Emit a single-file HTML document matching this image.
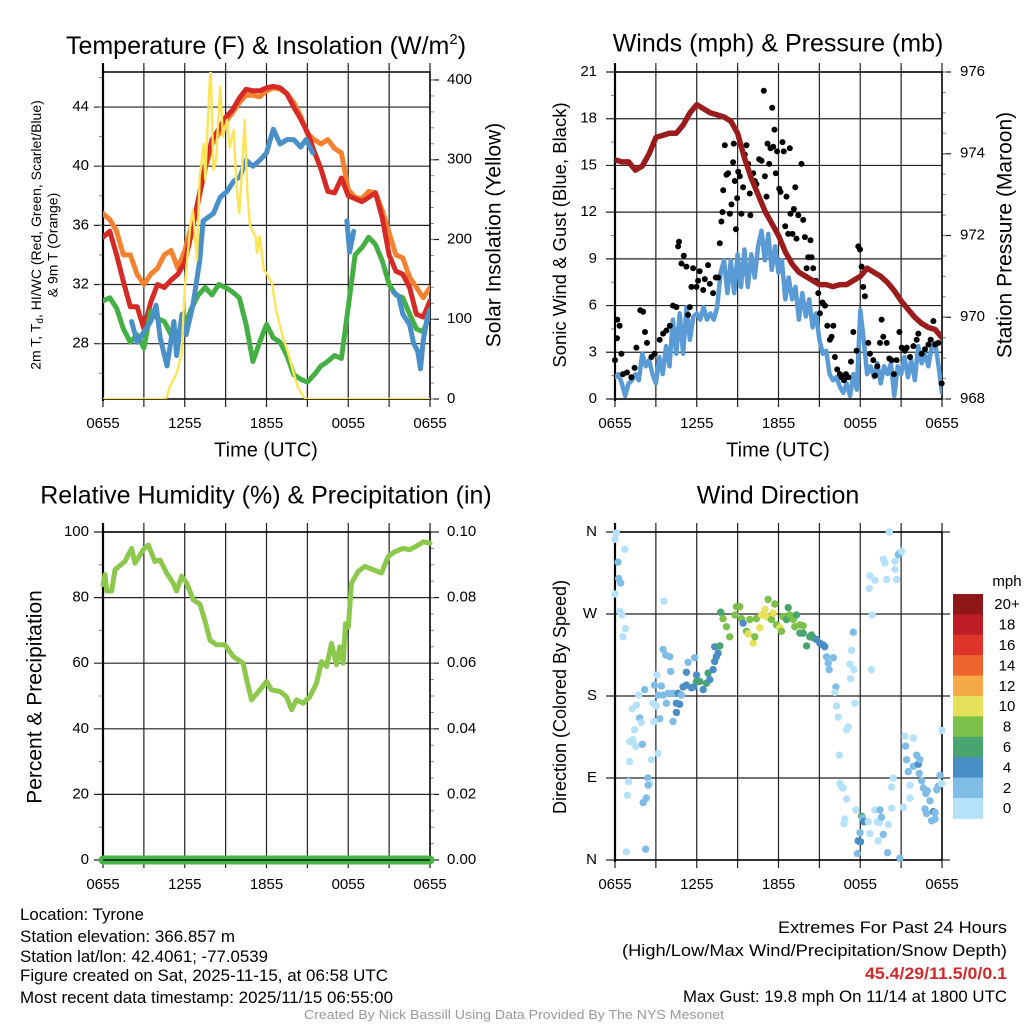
<!DOCTYPE html>
<html><head><meta charset="utf-8"><title>Tyrone Mesonet Meteogram</title>
<style>
html,body{margin:0;padding:0;background:#fff;}
svg{display:block;font-family:"Liberation Sans",Arial,sans-serif;}
</style></head>
<body>
<svg id="chart" xmlns="http://www.w3.org/2000/svg" width="1024" height="1024" viewBox="0 0 1024 1024">
<defs>
<clipPath id="clip1"><rect x="103" y="72" width="327" height="327"/></clipPath>
<clipPath id="clip2"><rect x="615" y="72" width="327" height="327"/></clipPath>
<clipPath id="clip3"><rect x="95" y="520" width="345" height="350"/></clipPath>
</defs>
<rect x="0" y="0" width="1024" height="1024" fill="#fff"/>
<!-- Titles -->
<text x="266" y="54" font-size="25" text-anchor="middle">Temperature (F) &amp; Insolation (W/m<tspan font-size="15" dy="-10">2</tspan><tspan dy="10">)</tspan></text>
<text x="778" y="45" font-size="25" text-anchor="middle" dominant-baseline="middle">Winds (mph) &amp; Pressure (mb)</text>
<text x="266" y="497" font-size="25" text-anchor="middle" dominant-baseline="middle">Relative Humidity (%) &amp; Precipitation (in)</text>
<text x="778" y="497" font-size="25" text-anchor="middle" dominant-baseline="middle">Wind Direction</text>
<!-- Axis titles -->
<text transform="translate(37,235) rotate(-90)" font-size="14" text-anchor="middle" dominant-baseline="middle">2m T, T<tspan font-size="10" dy="3">d</tspan><tspan dy="-3">, HI/WC (Red, Green, Scarlet/Blue)</tspan></text>
<text transform="translate(54,245) rotate(-90)" font-size="14" text-anchor="middle" dominant-baseline="middle">&amp; 9m T (Orange)</text>
<text transform="translate(495,235) rotate(-90)" font-size="21" text-anchor="middle" dominant-baseline="middle">Solar Insolation (Yellow)</text>
<text x="266" y="451" font-size="20" text-anchor="middle" dominant-baseline="middle">Time (UTC)</text>
<text x="778" y="451" font-size="20" text-anchor="middle" dominant-baseline="middle">Time (UTC)</text>
<text transform="translate(561,235) rotate(-90)" font-size="18.5" text-anchor="middle" dominant-baseline="middle">Sonic Wind &amp; Gust (Blue, Black)</text>
<text transform="translate(1006,235) rotate(-90)" font-size="21" text-anchor="middle" dominant-baseline="middle">Station Pressure (Maroon)</text>
<text transform="translate(36,697) rotate(-90)" font-size="21" text-anchor="middle" dominant-baseline="middle">Percent &amp; Precipitation</text>
<text transform="translate(561,697) rotate(-90)" font-size="18" text-anchor="middle" dominant-baseline="middle">Direction (Colored By Speed)</text>
<!-- Footer -->
<g font-size="16.5">
<text x="20" y="920" textLength="124" lengthAdjust="spacingAndGlyphs">Location: Tyrone</text>
<text x="20" y="942" textLength="215" lengthAdjust="spacingAndGlyphs">Station elevation: 366.857 m</text>
<text x="20" y="962" textLength="248" lengthAdjust="spacingAndGlyphs">Station lat/lon: 42.4061; -77.0539</text>
<text x="20" y="981" textLength="368" lengthAdjust="spacingAndGlyphs">Figure created on Sat, 2025-11-15, at 06:58 UTC</text>
<text x="20" y="1003" textLength="373" lengthAdjust="spacingAndGlyphs">Most recent data timestamp: 2025/11/15 06:55:00</text>
</g>
<g font-size="16.5" text-anchor="end">
<text x="1007" y="933" textLength="229" lengthAdjust="spacingAndGlyphs">Extremes For Past 24 Hours</text>
<text x="1007" y="956" textLength="385" lengthAdjust="spacingAndGlyphs">(High/Low/Max Wind/Precipitation/Snow Depth)</text>
<text x="1007" y="979" fill="#d02a2a" font-weight="bold" textLength="142" lengthAdjust="spacingAndGlyphs">45.4/29/11.5/0/0.1</text>
<text x="1007" y="1002" textLength="324" lengthAdjust="spacingAndGlyphs">Max Gust: 19.8 mph On 11/14 at 1800 UTC</text>
</g>
<text x="514" y="1019" font-size="13" fill="#999" text-anchor="middle" textLength="420" lengthAdjust="spacingAndGlyphs">Created By Nick Bassill Using Data Provided By The NYS Mesonet</text>
</svg>
<script>
// ---------- DATA ----------
const timeTickHours = [0, 6, 12, 18, 24];
const timeTickLabels = ['0655', '1255', '1855', '0055', '0655'];
const gridHours = [0, 3, 6, 9, 12, 15, 18, 21, 24];

const tempTicks = [28, 32, 36, 40, 44];
const solarTicks = [0, 100, 200, 300, 400];
const windTicks = [0, 3, 6, 9, 12, 15, 18, 21];
const pressTicks = [968, 970, 972, 974, 976];
const rhTicks = [0, 20, 40, 60, 80, 100];
const precipTickLabels = ['0.00', '0.02', '0.04', '0.06', '0.08', '0.10'];
const dirTickDeg = [0, 90, 180, 270, 360];
const dirTickLabels = ['N', 'E', 'S', 'W', 'N'];

const halfHours = [0,0.5,1,1.5,2,2.5,3,3.5,4,4.5,5,5.5,6,6.5,7,7.5,8,8.5,9,9.5,10,10.5,11,11.5,12,12.5,13,13.5,14,14.5,15,15.5,16,16.5,17,17.5,18,18.5,19,19.5,20,20.5,21,21.5,22,22.5,23,23.5,24];
const tempRed = [35.2,35.6,34,32.2,30.5,30.5,29,30.8,32,31.8,32.3,32.7,33.5,35.5,37.8,40,41.8,42.5,43.3,43.8,44.6,45.2,45.1,45.1,45.3,45.4,45.3,44.9,44,43.2,42.3,41,39.8,38.3,38.2,39.2,38,37.8,37.6,37.9,38.2,36.5,34,32.9,32.7,31.8,30,29.8,30.9];
const temp9mOrange = [36.8,36.4,35.6,34,34,32.7,32,32.7,33.1,34,34.3,33.1,34.3,36,37.6,39.8,41.5,42.2,43,43.6,44.3,44.8,44.8,44.7,45.1,45.3,45.2,44.9,44.3,43.4,42.2,41.8,41.5,41.8,41.2,40.9,38.4,37.9,37.8,38.3,38.2,37,35.5,34,33.8,32.5,31.8,31.1,31.8];
const dewGreen = [30.9,31.1,30.4,29,28.1,28.6,27.7,30.2,29.7,29.5,28.6,28.8,29.3,30.4,31.3,31.8,31.3,32,31.8,31.5,31.1,29.3,26.8,28.1,29.3,28.4,28.1,27.2,25.9,25.6,25.4,25.9,26.5,26.8,27.2,27,30.5,34,34.5,35.2,34.7,33.6,32,31.3,31.1,30,29,28.8,30];
const wcHours = [2.1,2.5,3,3.5,3.9,4.2,4.7,5.2,5.4,5.8,6.1,6.6,7.1,7.35,8.1,8.6,9.1,9.6,10.05,10.5,11,11.5,12,12.5,13,13.5,14,14.5,14.9,15.4,16,17.9,18.1,18.4,19,21.3,21.7,22,22.5,22.8,23.1,23.3,23.5,23.8,24];
const wcBlue = [29.5,28.1,28.8,29.5,30.6,28.4,26.5,29.5,27.2,30,28.6,30.6,33.6,36.3,36.8,37.9,38.3,39,39.3,40.4,40,40.4,40.9,42.5,41.5,41.8,41.8,41.3,41.8,40.9,null,36.3,34.2,35.6,null,31.5,31.2,30,29.3,28,27.5,26.3,28.2,29.8,30.3];
const solarHours = [0,4.5,4.67,4.9,5.4,5.77,6,6.4,6.6,6.9,7.1,7.4,7.5,7.7,7.9,8.1,8.3,8.6,8.8,9.1,9.3,9.6,9.8,10,10.2,10.4,10.6,10.8,11.2,11.3,11.5,11.8,12,12.4,12.7,13.2,13.6,14,14.3,14.7,14.9,24];
const solarYellow = [0,0,2,15,32,57,141,216,237,174,279,320,275,350,420,287,300,392,329,350,316,337,266,233,287,350,258,216,204,183,204,162,158,145,112,78,57,32,15,3,0,0];

const quarterHours = [0,0.25,0.5,0.75,1,1.25,1.5,1.75,2,2.25,2.5,2.75,3,3.25,3.5,3.75,4,4.25,4.5,4.75,5,5.25,5.5,5.75,6,6.25,6.5,6.75,7,7.25,7.5,7.75,8,8.25,8.5,8.75,9,9.25,9.5,9.75,10,10.25,10.5,10.75,11,11.25,11.5,11.75,12,12.25,12.5,12.75,13,13.25,13.5,13.75,14,14.25,14.5,14.75,15,15.25,15.5,15.75,16,16.25,16.5,16.75,17,17.25,17.5,17.75,18,18.25,18.5,18.75,19,19.25,19.5,19.75,20,20.25,20.5,20.75,21,21.25,21.5,21.75,22,22.25,22.5,22.75,23,23.25,23.5,23.75,24];
const windSpeed = [1.4,1.6,1,0.2,1,1.2,1.6,1.2,2.9,2.1,2.5,1.6,1,2.7,1.6,3.4,2.1,5.1,2.9,5.5,2.9,5.9,3.8,5.3,5.5,5.1,5.9,5.1,5.5,5.1,5.9,8.1,8.9,6.8,8.9,6.8,9.3,7.2,9.6,7.2,9.3,7.8,9.8,10.8,8.9,10.6,8.3,9.8,8.1,8.9,6.4,7.8,6.4,7.2,5.1,6.8,5.3,6.4,4.6,5.5,3.8,2.9,3.1,1.6,1.2,1.4,0.8,0.4,1,0.2,1.6,0.6,5.7,3.8,1.6,2.1,1.4,2.3,1,2.1,1.6,2.3,0.2,2.1,1.6,2.7,1.4,2.5,1.2,3.4,2.3,2.9,2.1,3.4,3.6,2.1,0.4];
const pressure = [973.85,973.8,973.8,973.6,973.7,974,974.4,974.45,974.5,974.5,974.7,975,975.2,975.1,975,974.95,974.9,974.8,974.5,973.9,973.4,973,972.6,972.3,972,971.6,971.3,971.1,971,970.9,970.8,970.8,970.75,970.8,970.8,970.9,971,971.2,971.1,971,970.85,970.65,970.4,970.2,970,969.85,969.75,969.7,969.5];
const gustHours = [0,0.15,0.17,0.34,0.47,0.59,0.88,1.2,1.44,1.57,1.86,2.06,2.2,2.35,2.67,2.91,3.28,3.53,3.77,4.02,4.26,4.51,4.63,4.7,4.87,5.05,5.24,5.36,5.49,5.61,5.73,5.98,6.1,6.22,6.47,6.59,6.83,6.96,7.2,7.4,7.57,7.69,7.81,7.89,7.94,8.06,8.18,8.3,8.43,8.55,8.67,8.72,8.79,8.87,8.96,9.04,9.16,9.28,9.4,9.53,9.65,9.77,9.89,9.94,10.14,10.26,10.38,10.58,10.75,10.92,11,11.12,11.19,11.32,11.41,11.54,11.61,11.71,11.8,11.9,12.05,12.15,12.29,12.39,12.49,12.59,12.71,12.83,12.88,13.03,13.13,13.23,13.32,13.45,13.69,13.81,13.94,14.06,14.18,14.35,14.43,14.55,14.74,14.92,15.04,15.23,15.41,15.58,15.77,15.9,16.02,16.14,16.31,16.51,16.63,16.8,16.95,17.12,17.32,17.49,17.73,17.86,17.98,18.1,18.22,18.34,18.59,18.71,18.96,19.08,19.25,19.45,19.57,19.69,19.94,20.13,20.3,20.47,20.67,20.87,21.04,21.28,21.41,21.65,21.9,22.14,22.26,22.51,22.75,23,23.17,23.37,23.49,23.73,23.98];
const gustSpeed = [2.5,3.9,5.1,4.7,2.9,1.6,1.7,1.4,2,3.3,5.7,5.6,4.3,3.6,2.7,2.9,3.8,4.2,4.4,4.7,6,5.9,9.8,10.1,8.7,9.2,8.5,5.4,5.9,7.2,8.4,7.2,7.6,8.2,7,7.7,8.6,7.4,6.8,7.8,7.8,10,11.4,12,13.4,16.3,14.4,14.5,11.9,12.5,15.2,16.4,14,10.9,12.9,14.6,14.3,11.9,13.6,15.7,16.3,15.1,13.2,11.8,14.5,14,13.8,15.4,15.3,19.8,14.3,13,16.4,15.1,16.1,18.7,16.2,17.3,14.5,15.9,13.5,13.3,16.5,15.9,11.1,13,10.6,16.1,11.9,10.6,12.2,13.6,10.3,11.8,15.1,11.5,10.4,8.4,9.1,10.2,9.1,8.4,7.6,6.8,5.5,6.2,6,4.7,3.8,4,4.7,2.7,1.9,1.6,1.4,1.2,1.6,1.4,2.4,4.3,3.1,9.8,9.6,8.5,7.2,6.6,3.6,2.9,2.5,1.5,2.1,3.6,5.1,4,3.6,2.6,2.5,1.6,2.5,4.3,3.3,3.1,3.3,2.7,3.4,3.8,4.2,2.9,3.2,3.5,3.8,5,3.5,3.6,1];

const rhHours = [0,0.15,0.27,0.64,0.88,1.61,2.1,2.35,2.96,3.33,3.81,4.18,4.67,5.16,5.4,5.77,6.14,6.63,7.11,7.48,7.85,8.34,8.95,9.56,10.29,10.54,10.9,11.52,12,12.37,12.98,13.47,13.84,14.2,14.69,15.18,15.67,16.04,16.41,16.77,17.14,17.38,17.63,17.8,18,18.24,18.73,19.22,19.83,20.44,20.93,21.42,22.03,22.52,23.13,23.5,24];
const rhValues = [84,87,82,82,88.5,91,95,90.5,94.6,96,91,91.5,87.5,84.4,82,86.5,84.4,79.3,78,73,67,65.6,65.6,62,60,55,48.8,51.9,54.4,51.9,51.4,49.8,45.8,48.8,47.8,49.8,53.9,60.5,59,66,59.5,65,60,72,71,84.4,88,89.5,88.5,87.5,92.6,94,95,94.6,96,97,96.6];
const precipHours = [0, 24];
const precipValues = [0, 0];

const dirHours = [0.1,0,0.22,0.27,0.42,0.71,0,0.34,0.51,0.76,0.59,3.6,3.53,3.72,4.02,3.09,2.91,3.4,4.09,5.36,5.85,5.24,5.98,1.74,2.18,3.16,3.53,3.89,4.26,4.63,4.87,4.51,4.75,3.77,4.51,4.26,3.28,2.79,3.04,1.27,1.57,1.81,1.93,1.44,1.32,1.08,1.52,2.01,2.87,3.16,2.67,1.08,2.42,2.55,2.42,1,0.91,2.3,2.06,0.83,2.25,
5,5.24,5.61,5.78,5.98,6.22,6.47,6.71,6.83,6.96,7.2,7.32,7.44,7.57,7.32,7.69,7.76,7.93,8.18,8.42,8.79,8.91,9.16,9.28,9.4,9.65,9.77,9.89,10.14,10.26,10.38,10.63,10.75,11,11.12,11.36,11.24,11.49,11.61,11.73,11.85,12.1,12.22,12.34,12.59,12.71,12.83,13.08,13.2,13.32,13.57,13.81,13.57,13.81,14.06,14.3,14.42,14.55,14.79,15.04,15.28,15.4,15.53,15.65,15.72,16.02,16.21,16.14,16.26,16.38,17.12,17,16.46,17.49,17.36,17.24,17.53,17.29,17.61,
16.51,16.63,16.75,17,17.68,16.87,16.8,18.1,18.17,18.27,17.98,17.85,18.02,17.78,18.59,18.71,19.08,19.25,19.4,19.45,19.57,19.69,19.32,20.06,20.01,20.3,20.42,20.3,20.91,
18.66,18.71,19.08,19.94,19.69,19.81,20.55,20.55,20.67,20.79,20.91,21.04,20.13,18.88,18.83,
21.28,21.9,21.33,21.4,21.53,21.65,21.65,21.9,22.14,22.26,22.38,22.33,22.51,22.63,22.82,22.92,23.12,22.75,22.87,23.37,23.49,23.24,23.49,23.61,23.73,23.86,23.98,24,21.16];
const dirDeg = [359,352,327,309,304,341,292,273,269,254,245,284,231,225,223,203,192,191,207,217,222,206,203,181,187,181,181,183,183,183,181,172,171,172,162,152,155,172,169,166,170,156,151,143,132,130,125,127,152,117,110,108,90,84,82,86,71,68,63,9,12,
190,192,189,190,196,196,187,194,205,198,209,218,223,227,234,235,272,265,256,245,269,278,278,265,260,251,248,264,238,245,265,255,269,275,267,265,286,264,271,281,258,255,251,267,264,277,269,264,256,269,258,257,249,249,235,245,247,244,242,238,236,234,223,216,209,222,190,184,169,157,146,143,115,250,230,215,209,199,172,
84,80,79,67,55,45,40,48,46,42,30,21,20,7,42,29,55,42,41,55,47,28,21,39,8,57,90,80,2,
298,312,307,308,330,326,328,319,308,335,337,339,360,269,209,
136,134,125,110,97,82,68,103,115,105,110,95,87,79,73,76,65,56,51,53,52,43,45,77,81,93,84,142,58];
const dirSpeed = [1,1,3,3,3,1,1,1,1,1,1,1,3,3,3,1,3,3,3,3,3,5,5,1,3,3,3,3,3,5,3,5,5,3,5,3,3,1,1,1,1,3,1,1,1,1,1,3,1,1,1,1,3,1,3,1,1,3,3,1,3,
5,5,5,5,7,7,5,7,7,5,5,5,5,5,5,7,7,9,9,9,9,9,9,9,5,9,11,9,11,9,9,11,11,11,11,11,9,9,11,9,9,11,9,9,7,7,9,9,9,7,9,9,7,7,7,7,7,7,5,5,5,5,3,3,3,3,3,1,1,1,1,1,1,3,1,1,1,1,1,
1,1,1,1,1,1,1,7,3,5,3,5,5,3,1,1,1,1,1,3,3,3,1,1,3,1,1,1,3,
1,1,1,1,1,1,1,1,1,3,3,1,1,1,1,
1,1,3,3,3,1,1,3,3,5,3,3,3,3,3,3,3,3,3,5,3,3,3,3,3,3,1,1,1];
const speedBinLabels = ['0','2','4','6','8','10','12','14','16','18','20+'];
const speedBinColors = ['#b5e2f8','#7fbce6','#4a8ec6','#48a56f','#7cc24a','#e6e15a','#f5a947','#ef6530','#dd3529','#bf1d25','#8f1619'];

// ---------- HELPERS ----------
const NS = 'http://www.w3.org/2000/svg';
const svg = document.getElementById('chart');
function mk(tag, parent) { const e = document.createElementNS(NS, tag); (parent || svg).appendChild(e); return e; }
function pathD(xs, ys, fx, fy) {
  let d = '', pen = false;
  for (let i = 0; i < xs.length; i++) {
    if (ys[i] === null) { pen = false; continue; }
    d += (pen ? 'L' : 'M') + fx(xs[i]).toFixed(1) + ',' + fy(ys[i]).toFixed(1);
    pen = true;
  }
  return d;
}
function line(g, x1, y1, x2, y2, stroke, w) {
  const l = mk('line', g);
  l.setAttribute('x1', x1); l.setAttribute('y1', y1); l.setAttribute('x2', x2); l.setAttribute('y2', y2);
  l.setAttribute('stroke', stroke); l.setAttribute('stroke-width', w);
  return l;
}
function label(g, x, y, txt, anchor, size) {
  const t = mk('text', g);
  t.setAttribute('x', x); t.setAttribute('y', y);
  t.setAttribute('text-anchor', anchor); t.setAttribute('dominant-baseline', 'middle');
  t.setAttribute('font-size', size || 14);
  t.textContent = txt;
  return t;
}
function series(g, xs, ys, fx, fy, color, width, clip) {
  const p = mk('path', g);
  p.setAttribute('d', pathD(xs, ys, fx, fy));
  p.setAttribute('fill', 'none'); p.setAttribute('stroke', color); p.setAttribute('stroke-width', width);
  p.setAttribute('stroke-linejoin', 'round'); p.setAttribute('stroke-linecap', 'round');
  if (clip) p.setAttribute('clip-path', 'url(#' + clip + ')');
  return p;
}

function frame(name, x0, x1, y0, y1, fx, leftMajor, leftMinor, fyL, rightMajor, rightMinor, fyR) {
  const g = mk('g');
  
  
  gridHours.forEach(h => {
    const l = line(g, fx(h), y0 - 9, fx(h), y1 + 8, '#222', 1.2);
    
    
  });
  leftMajor.forEach(v => {
    const l = line(g, x0 - 9, fyL(v), x1, fyL(v), '#222', 1.2);
    
    
  });
  leftMinor.forEach(v => {
    const l = line(g, x0 - 4, fyL(v), x0, fyL(v), '#888', 1);
    
    
  });
  if (fyR) {
    rightMajor.forEach(v => {
      const l = line(g, x1, fyR(v), x1 + 9, fyR(v), '#222', 1.2);
      
      
    });
    rightMinor.forEach(v => {
      const l = line(g, x1, fyR(v), x1 + 4, fyR(v), '#888', 1);
      
      
    });
  }
  const box = mk('rect', g);
  box.setAttribute('x', x0); box.setAttribute('y', y0); box.setAttribute('width', x1 - x0); box.setAttribute('height', y1 - y0);
  box.setAttribute('fill', 'none'); box.setAttribute('stroke', '#000'); box.setAttribute('stroke-width', 1.5);
  
  
  const la = line(g, x0, y0 - 9, x0, y1 + 2, '#000', 2.2);
  
  
  timeTickHours.forEach((h, i) => {
    const t = label(g, fx(h), y1 + 25, timeTickLabels[i], 'middle', 15);
    
    
  });
  return g;
}
function range(a, b, s) { const r = []; for (let v = a; v <= b + 1e-9; v += s) r.push(+v.toFixed(4)); return r; }

// ---------- PANEL 1: Temperature ----------
(function () {
  const x0 = 103, x1 = 430, y0 = 72, y1 = 399, tMin = 24.26, tMax = 46.37;
  const fx = h => x0 + h / 24 * (x1 - x0);
  const fy = v => y1 - (v - tMin) / (tMax - tMin) * (y1 - y0);
  const fs = v => y1 - v / 410 * (y1 - y0);
  frame('temp', x0, x1, y0, y1, fx, tempTicks, range(26, 46, 2), fy, solarTicks, range(0, 400, 20), fs);
  const g = mk('g');
  
  
  let p;
  p = series(g, halfHours, temp9mOrange, fx, fy, '#f5822e', 5, 'clip1');
  
  
  p = series(g, halfHours, tempRed, fx, fy, '#d62a26', 5, 'clip1');
  
  
  p = series(g, halfHours, dewGreen, fx, fy, '#44b044', 5, 'clip1');
  
  
  p = series(g, wcHours, wcBlue, fx, fy, '#4a90c8', 5, 'clip1');
  
  
  p = series(g, solarHours, solarYellow, fx, fs, '#fde456', 2.4, 'clip1');
  
  
  tempTicks.forEach(v => {
    const t = label(svg, 89, fy(v), String(v), 'end', 15);
    
    
  });
  solarTicks.forEach(v => {
    const t = label(svg, 447, fs(v), String(v), 'start', 15);
    
    
  });
})();

// ---------- PANEL 2: Wind & Pressure ----------
(function () {
  const x0 = 615, x1 = 942, y0 = 72, y1 = 399;
  const fx = h => x0 + h / 24 * (x1 - x0);
  const fy = v => y1 - v / 21 * (y1 - y0);
  const fp = v => y1 - (v - 968) / 8 * (y1 - y0);
  frame('wind', x0, x1, y0, y1, fx, windTicks, range(1.5, 19.5, 3), fy, pressTicks, range(968, 976, 0.5), fp);
  const g = mk('g');
  
  
  let p = series(g, quarterHours, windSpeed, fx, fy, '#5a9bd5', 4.5, 'clip2');
  
  
  gustHours.forEach((h, i) => {
    const c = mk('circle', g);
    c.setAttribute('cx', fx(h).toFixed(1)); c.setAttribute('cy', fy(gustSpeed[i]).toFixed(1));
    c.setAttribute('r', 3); c.setAttribute('fill', '#000');
    
    
  });
  p = series(g, halfHours, pressure, fx, fp, '#9b1c1c', 5.5, 'clip2');
  
  
  windTicks.forEach(v => {
    const t = label(svg, 597, fy(v), String(v), 'end', 15);
    
    
  });
  pressTicks.forEach(v => {
    const t = label(svg, 960, fp(v), String(v), 'start', 15);
    
    
  });
})();

// ---------- PANEL 3: RH & Precip ----------
(function () {
  const x0 = 103, x1 = 430, y0 = 532, y1 = 860;
  const fx = h => x0 + h / 24 * (x1 - x0);
  const fy = v => y1 - v / 100 * (y1 - y0);
  const fpr = v => y1 - v / 0.1 * (y1 - y0);
  frame('rh', x0, x1, y0, y1, fx, rhTicks, range(10, 90, 20), fy, rhTicks, range(5, 95, 5), fy);
  const g = mk('g');
  
  
  let p = series(g, rhHours, rhValues, fx, fy, '#8cc84b', 5, 'clip3');
  
  
  p = series(g, precipHours, precipValues, fx, fpr, '#46b446', 9, null);
  
  
  const ax = line(g, x0, y1, x1, y1, '#000', 1.2);
  
  
  rhTicks.forEach(v => {
    const t = label(svg, 89, fy(v), String(v), 'end', 15);
    
    
  });
  precipTickLabels.forEach((s, i) => {
    const t = label(svg, 447, fpr(+s), s, 'start', 15);
    
    
  });
})();

// ---------- PANEL 4: Wind Direction ----------
(function () {
  const x0 = 615, x1 = 942, y0 = 532, y1 = 860;
  const fx = h => x0 + h / 24 * (x1 - x0);
  const fy = d => y1 - d / 360 * (y1 - y0);
  const g0 = frame('dir', x0, x1, y0, y1, fx, dirTickDeg, [], fy, [], [], null);
  dirTickDeg.forEach(d => {
    const l = line(g0, x1, fy(d), x1 + 8, fy(d), '#222', 1.2);
    
    
  });
  const g = mk('g');
  
  
  dirHours.forEach((h, i) => {
    const bin = Math.min(10, Math.floor(dirSpeed[i] / 2));
    const c = mk('circle', g);
    c.setAttribute('cx', fx(h).toFixed(1)); c.setAttribute('cy', fy(dirDeg[i]).toFixed(1));
    c.setAttribute('r', 3.7); c.setAttribute('fill', speedBinColors[bin]);
    
    
  });
  dirTickDeg.forEach((d, i) => {
    const t = label(svg, 597, fy(d), dirTickLabels[i], 'end', 15);
    
    
  });
  const cb = mk('g');
  
  
  const top = 594, bh = 20.4;
  const n = speedBinLabels.length;
  for (let i = 0; i < n; i++) {
    const idx = n - 1 - i;
    const r = mk('rect', cb);
    r.setAttribute('x', 953); r.setAttribute('y', (top + i * bh).toFixed(1));
    r.setAttribute('width', 30); r.setAttribute('height', (bh + 0.4).toFixed(1));
    r.setAttribute('fill', speedBinColors[idx]);
    
    
    const t = label(cb, 1007, top + i * bh + bh / 2 + 1, speedBinLabels[idx], 'middle', 15);
    
    
  }
  const u = label(cb, 1007, 582, 'mph', 'middle', 15);
  
  
})();
</script>
</body></html>
